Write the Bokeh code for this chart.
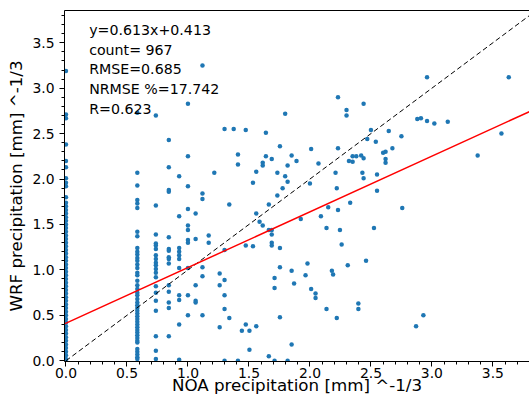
from bokeh.plotting import figure
from bokeh.models import Range1d, FixedTicker, Label, ColumnDataSource, LinearAxis
from bokeh.embed import file_html
from bokeh.resources import INLINE

# ---- data ----
x_col0 = 0.0
y_col0 = [3.19, 2.71, 2.67, 2.38, 2.20, 2.13, 2.01, 1.96, 1.92, 1.80, 1.74, 1.70,
          1.66, 1.62, 1.58, 1.54, 1.50, 1.46, 1.42, 1.38, 1.34, 1.30, 1.26, 1.22,
          1.18, 1.14, 1.10, 1.06, 1.02, 0.98, 0.94, 0.90, 0.86, 0.82, 0.78, 0.74,
          0.70, 0.66, 0.62, 0.58, 0.54, 0.50, 0.46, 0.42, 0.38, 0.34, 0.30, 0.26,
          0.22, 0.18, 0.14, 0.10, 0.06, 0.02, 0.0]

x_col1 = 0.585
y_col1 = [2.73, 2.07, 1.93, 1.77, 1.73, 1.68, 1.42, 1.37, 1.24, 1.20, 1.17, 1.13,
          1.10, 1.06, 1.02, 0.97, 0.94, 0.88, 0.83, 0.79, 0.75, 0.72, 0.68, 0.64,
          0.61, 0.58, 0.55, 0.52, 0.49, 0.46, 0.43, 0.40, 0.37, 0.34, 0.31, 0.28,
          0.25, 0.22, 0.20, 0.13, 0.10, 0.07, 0.04, 0.02]

x_col2 = 0.737
y_col2 = [2.70, 1.71, 1.39, 1.29, 1.27, 1.23, 1.16, 1.12, 1.08, 1.05, 1.01, 0.97,
          0.92, 0.82, 0.75, 0.66, 0.55, 0.27, 0.11, 0.02]

x_col3 = 0.843
y_col3 = [2.43, 2.13, 1.88, 1.86, 1.36, 1.23, 1.21, 1.14, 1.12, 1.07, 0.83, 0.76,
          0.64, 0.58, 0.27]

x_col4 = 0.928
y_col4 = [2.03, 1.59, 1.24, 1.20, 1.16, 1.12, 1.02, 0.72, 0.67, 0.40, 0.01]

x_col5 = 1.0
y_col5 = [2.83, 2.25, 1.92, 1.67, 1.49, 1.44, 1.33, 1.30, 1.02, 0.72, 0.50]

# remaining scattered points (x, y)
x_rest = [1.063, 1.063, 1.063, 1.063, 1.063,
          1.119, 1.119, 1.119, 1.119, 1.119, 1.119,
          1.17, 1.17, 1.216, 1.26, 1.26, 1.26,
          1.30, 1.30, 1.30, 1.30, 1.30, 1.30,
          1.339, 1.339, 1.375, 1.41, 1.41, 1.41, 1.442,
          1.474, 1.474, 1.474, 1.504, 1.504, 1.533, 1.533,
          1.56, 1.56, 1.56, 1.587, 1.613, 1.613, 1.613,
          1.639, 1.639, 1.663, 1.663, 1.663,
          1.687, 1.687, 1.687, 1.687, 1.687,
          1.71, 1.71, 1.71, 1.733, 1.733,
          1.754, 1.754, 1.754, 1.754, 1.776, 1.797, 1.797,
          1.817, 1.817, 1.817, 1.85, 1.85, 1.85, 1.87, 1.89,
          1.925, 1.964, 1.98, 2.0, 2.01, 2.01, 2.046, 2.046, 2.07, 2.09,
          2.136, 2.136, 2.15, 2.18, 2.19, 2.21, 2.22, 2.22,
          2.23, 2.23, 2.23, 2.246, 2.26, 2.30, 2.30, 2.31, 2.32, 2.33,
          2.35, 2.35, 2.38, 2.397, 2.397, 2.42, 2.43,
          2.44, 2.44, 2.44, 2.46, 2.47, 2.50, 2.525, 2.54, 2.55, 2.55,
          2.60, 2.62, 2.62, 2.62, 2.646, 2.676, 2.75, 2.757,
          2.87, 2.88, 2.91, 2.93, 2.96, 2.96, 3.02, 3.13, 3.375, 3.57, 3.63]
y_rest = [1.62, 1.34, 0.83, 0.66, 0.64,
          3.25, 1.84, 1.78, 1.03, 0.93, 0.50,
          1.38, 1.30, 2.07, 0.96, 0.83, 0.37,
          2.55, 1.22, 0.89, 0.72, 0.57, 0.0,
          1.72, 0.47, 2.55, 2.27, 2.16, 0.0, 0.33,
          2.54, 1.27, 0.40, 0.33, 0.12, 1.96, 1.26,
          2.08, 1.62, 0.38, 1.53, 2.18, 2.15, 1.49,
          2.51, 2.25, 1.72, 1.44, 0.05,
          2.22, 1.44, 1.39, 1.30, 1.27,
          0.91, 0.80, 0.0, 2.07, 1.82,
          2.36, 1.24, 1.03, 0.48, 1.90, 2.72, 2.03,
          2.15, 1.97, 0.0, 2.26, 0.99, 0.18, 0.85, 2.20,
          1.56, 0.94, 1.07, 1.95, 2.33, 0.79, 0.74, 0.69, 2.17, 1.59,
          1.46, 0.57, 1.69, 0.99, 0.95, 2.07, 1.90, 0.47,
          2.90, 2.34, 1.66, 1.44, 1.28, 2.76, 2.70, 1.05, 2.20, 1.74,
          2.25, 2.19, 2.25, 0.63, 0.57, 2.26, 2.07,
          2.83, 2.23, 2.01, 1.10, 2.44, 2.54, 1.46, 2.41, 2.05, 1.87,
          2.29, 2.30, 2.22, 2.18, 2.53, 2.34, 2.47, 1.68,
          0.38, 2.66, 2.67, 0.50, 3.12, 2.64, 2.61, 2.63, 2.26, 2.50, 3.12]

fit_slope = 0.613
fit_intercept = 0.413
stats_lines = ["y=0.613x+0.413", "count= 967", "RMSE=0.685", "NRMSE %=17.742", "R=0.623"]

x_ticks = [0.0, 0.5, 1.0, 1.5, 2.0, 2.5, 3.0, 3.5]
y_ticks = [0.0, 0.5, 1.0, 1.5, 2.0, 2.5, 3.0, 3.5]
minor_ticks = [i / 10 for i in range(0, 39)]

x_label = "NOA precipitation [mm] ^-1/3"
y_label = "WRF precipitation [mm] ^-1/3"

# ---- assemble ----
xs = ([x_col0] * len(y_col0) + [x_col1] * len(y_col1) + [x_col2] * len(y_col2)
      + [x_col3] * len(y_col3) + [x_col4] * len(y_col4) + [x_col5] * len(y_col5) + x_rest)
ys = y_col0 + y_col1 + y_col2 + y_col3 + y_col4 + y_col5 + y_rest
src = ColumnDataSource(dict(x=xs, y=ys))

X_START = -0.012
Y_START = -0.008
X_END = 3.80
Y_END = 3.855
FONT = "DejaVu Sans"

p = figure(width=529, height=408, x_range=Range1d(X_START, X_END), y_range=Range1d(Y_START, Y_END),
           output_backend="svg", toolbar_location=None,
           min_border_left=64, min_border_right=0, min_border_top=10, min_border_bottom=47)
p.grid.visible = False
p.outline_line_color = None
p.background_fill_color = "white"
p.border_fill_color = "white"

for ax, ticks in ((p.xaxis[0], x_ticks), (p.yaxis[0], y_ticks)):
    ax.ticker = FixedTicker(ticks=ticks, minor_ticks=minor_ticks)
    ax.major_label_overrides = {t: f"{t:.1f}" for t in ticks}
    ax.major_tick_out = 5
    ax.major_tick_in = 0
    ax.minor_tick_out = 3
    ax.minor_tick_in = 0
    ax.axis_line_color = "black"
    ax.major_tick_line_color = "black"
    ax.minor_tick_line_color = "black"
    ax.major_label_text_font = FONT
    ax.major_label_text_font_size = "13.9px"
    ax.major_label_text_color = "black"
    ax.axis_label_text_font = FONT
    ax.axis_label_text_font_size = "16.7px"
    ax.axis_label_text_font_style = "normal"
    ax.axis_label_text_color = "black"

p.xaxis.axis_label = x_label
p.yaxis.axis_label = y_label
p.xaxis.major_label_standoff = 1
p.xaxis.axis_label_standoff = -6
p.yaxis.major_label_standoff = 5
p.yaxis.axis_label_standoff = 3

# top spine only (the right edge is cut off in the reference)
top = LinearAxis(ticker=FixedTicker(ticks=[]), major_tick_line_color=None,
                 minor_tick_line_color=None, major_label_text_font_size="0px",
                 axis_line_color="black", axis_line_width=1)
p.add_layout(top, "above")

p.scatter("x", "y", source=src, size=4.5, fill_color="#1f77b4", line_color=None)

# 1:1 line and regression line
lim = max(X_END, Y_END)
p.line([0, lim], [0, lim], line_color="black", line_width=1, line_dash="5 3")
p.line([X_START, X_END], [fit_intercept + fit_slope * X_START, fit_intercept + fit_slope * X_END],
       line_color="red", line_width=1.5)

for i, s in enumerate(stats_lines):
    p.add_layout(Label(x=0.19, y=3.64 - i * 0.2165, text=s, text_font=FONT,
                       text_font_size="14.2px", text_baseline="middle", text_color="black"))

open("out.html", "w").write(file_html(p, INLINE))
